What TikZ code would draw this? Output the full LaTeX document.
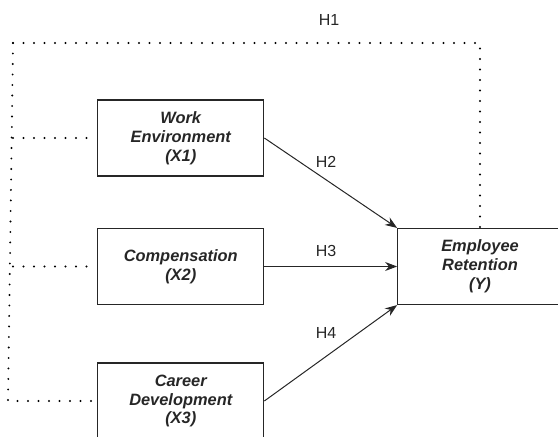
\documentclass[tikz,border=0pt]{standalone}
\usepackage{fontspec}
\setmainfont{Liberation Sans}
\usetikzlibrary{arrows.meta}
\begin{document}
\begin{tikzpicture}[x=1pt,y=-1pt,
  varbox/.style={draw=black!85,line width=1.2pt,rectangle,minimum width=166pt,minimum height=76pt,
    align=center,font=\fontsize{16.4}{18.8}\selectfont\bfseries\itshape,text=black!85,inner sep=0pt},
  lbl/.style={font=\fontsize{16}{18}\selectfont,text=black!85,inner sep=0pt},
  dotline/.style={draw=black,line width=2.1pt,dash pattern=on 0pt off 10.5pt,line cap=round},
  arr/.style={draw=black!85,line width=1pt,-{Stealth[length=12pt,width=9pt]}}]
\useasboundingbox (0,0) rectangle (558,437);
\clip (0,0) rectangle (558,437);
\node[varbox] (w) at (180.75,138) {Work\\Environment\\(X1)};
\node[varbox] (c) at (180.75,266.5) {Compensation\\(X2)};
\node[varbox] (d) at (180.75,401) {Career\\Development\\(X3)};
\node[varbox,minimum width=164.6pt] (y) at (480,266.5) {Employee\\Retention\\(Y)};
\coordinate (tl) at (13,43);
\coordinate (tr) at (480,43);
\draw[arr] (w.east) -- (y.north west);
\draw[arr] (c.east) -- (y.west);
\draw[arr] (d.east) -- (y.south west);
\path[dotline] (tl) -- (tr) -- (y.north);
\path[dotline] (tl) -- ([xshift=-5pt]d.west -| tl) -- ([xshift=-5pt]d.west);
\path[dotline] (w.west -| tl) -- ([xshift=-5pt]w.west);
\path[dotline] (c.west -| tl) -- ([xshift=-5pt]c.west);
\node[lbl] (h1) at (329,20) {H1};
\node[lbl] (h2) at (326,162) {H2};
\node[lbl] (h3) at (326,251) {H3};
\node[lbl] (h4) at (326,333) {H4};
\end{tikzpicture}
\end{document}
